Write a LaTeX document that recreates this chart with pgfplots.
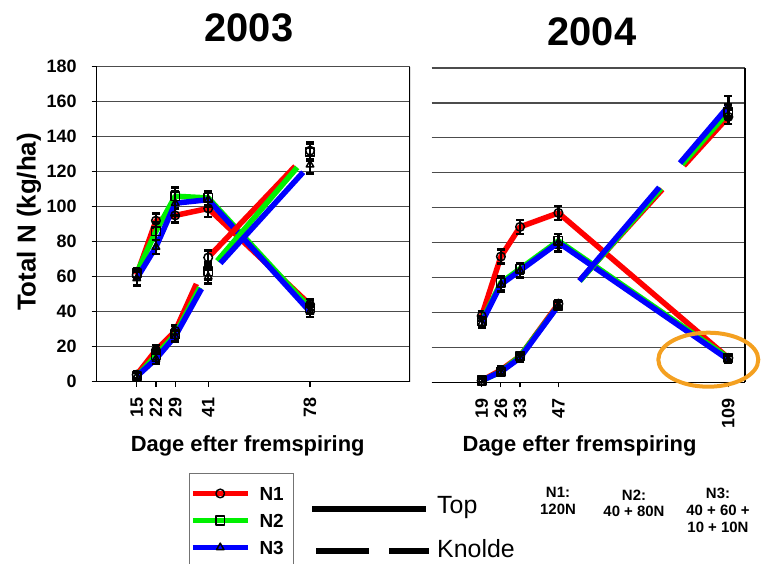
\documentclass[border=0pt]{standalone}
\usepackage{pgfplots}
\pgfplotsset{compat=1.18}
\usepackage{fontspec}
\setmainfont{Liberation Sans}
\definecolor{cNa}{RGB}{255,0,0}
\definecolor{cNb}{RGB}{0,240,0}
\definecolor{cNc}{RGB}{0,0,255}
\definecolor{ringc}{RGB}{244,160,32}
\newcommand{\fs}[1]{\fontsize{#1}{#1}\selectfont}
\pgfplotsset{
  panel/.style={scale only axis, width=313.3bp, height=315bp,
    ymin=0, ymax=180, ytick={0,20,...,180}, ymajorgrids,
    grid style={black!70, line width=1.2bp},
    axis line style={black, line width=1.2bp},
    tick style={black, line width=1.2bp},
    tick align=outside, major tick length=5bp,
    axis x line*=bottom,
    /pgf/number format/assume math mode=true,
    ticklabel style={font=\bfseries\fs{18}},
    xticklabel style={rotate=90, anchor=east, inner sep=0pt},
    xticklabel shift=11bp,
    yticklabel style={anchor=east, inner sep=0pt},
    yticklabel shift=15bp,
  },
  ser/.style={color=#1, line width=5.5bp, line join=round,
    mark options={solid, draw=black, fill=white, line width=1.5bp, mark size=4.3bp},
    error bars/y dir=both, error bars/y explicit,
    error bars/error bar style={black, solid, line width=2.4bp},
    error bars/error mark options={black, solid, rotate=90, line width=2.4bp, mark size=4bp}},
  kn/.style={dash pattern=on 123bp off 32bp, dash phase=13bp},
}
\begin{document}
\begin{tikzpicture}[x=1bp, y=1bp]
\useasboundingbox (0,0) rectangle (765,564);
% ---------- 2003 ----------
\begin{axis}[panel, at={(96.7bp,182.3bp)}, anchor=south west,
  axis y line*=left, xmin=0.46, xmax=114.35, xtick={15,22,29,41,78},
  legend image code/.code={
    \draw[mark repeat=2, mark phase=2, #1] plot coordinates {(0bp,0bp) (27.5bp,0bp) (55bp,0bp)};},
  legend style={at={(0.293,-0.2914)}, anchor=north west, draw=black!55, line width=1bp,
    inner xsep=1bp, inner ysep=12.75bp, row sep=13.5bp,
    /tikz/every odd column/.append style={column sep=9bp},
    font=\bfseries\fs{19}, nodes={inner sep=0pt, text height=13.5bp, text depth=0bp}},
  legend cell align=left]
\addplot[ser=cNa, mark=o] coordinates {(15,61)+-(0,3) (22,92)+-(0,4) (29,95)+-(0,4) (41,99)+-(0,5) (78,44)+-(0,3)};
\addlegendentry{N1\hspace*{9bp}}
\addplot[ser=cNb, mark=square] coordinates {(15,62)+-(0,3) (22,86)+-(0,5) (29,106)+-(0,5) (41,105)+-(0,4) (78,42)+-(0,3)};
\addlegendentry{N2\hspace*{9bp}}
\addplot[ser=cNc, mark=triangle] coordinates {(15,59)+-(0,4) (22,77)+-(0,4) (29,102)+-(0,7) (41,104)+-(0,4) (78,40)+-(0,3)};
\addlegendentry{N3\hspace*{9bp}}
\addplot[ser=cNa, kn, mark=o, forget plot] coordinates {(15,4)+-(0,2) (22,18)+-(0,3) (29,29)+-(0,3) (41,71)+-(0,4) (78,132)+-(0,5)};
\addplot[ser=cNb, kn, mark=square, forget plot] coordinates {(15,3)+-(0,2) (22,15)+-(0,4) (29,27)+-(0,3) (41,63)+-(0,5) (78,131)+-(0,5)};
\addplot[ser=cNc, kn, mark=triangle, forget plot] coordinates {(15,3)+-(0,2) (22,13)+-(0,3) (29,26)+-(0,3) (41,60)+-(0,4) (78,124)+-(0,5)};
\draw[black, line width=1.2bp] (rel axis cs:1,0) -- (rel axis cs:1,1);
\end{axis}
% ---------- 2004 ----------
\begin{axis}[panel, at={(431.7bp,181.7bp)}, anchor=south west, height=314.3bp,
  axis y line*=right, yticklabel=\empty, ytick style={draw=none},
  xmin=0.75, xmax=115.1, xtick={19,26,33,47,109}]
\addplot[ser=cNa, mark=o] coordinates {(19,38)+-(0,3) (26,72)+-(0,4) (33,89)+-(0,4) (47,97)+-(0,4) (109,14)+-(0,2)};
\addplot[ser=cNb, mark=square] coordinates {(19,35)+-(0,3) (26,57)+-(0,4) (33,65)+-(0,3) (47,81)+-(0,4) (109,14)+-(0,2)};
\addplot[ser=cNc, mark=triangle] coordinates {(19,34)+-(0,3) (26,56)+-(0,4) (33,64)+-(0,4) (47,80)+-(0,5) (109,13)+-(0,2)};
\addplot[ser=cNa, kn, mark=o] coordinates {(19,1)+-(0,1) (26,7)+-(0,2) (33,15)+-(0,2) (47,45)+-(0,2) (109,152)+-(0,4)};
\addplot[ser=cNb, kn, mark=square] coordinates {(19,1)+-(0,1) (26,6)+-(0,2) (33,15)+-(0,2) (47,44)+-(0,2) (109,155)+-(0,4)};
\addplot[ser=cNc, kn, mark=triangle] coordinates {(19,1)+-(0,1) (26,6)+-(0,2) (33,14)+-(0,2) (47,44)+-(0,2) (109,158)+-(0,6)};
\end{axis}
% ---------- texts ----------
\node[anchor=base, font=\bfseries\fs{40}] at (249,522.3) {2003};
\node[anchor=base, font=\bfseries\fs{40}] at (592,518) {2004};
\node[rotate=90, font=\bfseries\fs{26}] at (29,342) {Total N (kg/ha)};
\node[anchor=base, font=\bfseries\fs{22}] at (247.7,112) {Dage efter fremspiring};
\node[anchor=base, font=\bfseries\fs{22}] at (579.6,112) {Dage efter fremspiring};
\draw[ringc, line width=4bp] (708.3,204.3) ellipse [x radius=50bp, y radius=27bp];
% key for line styles
\draw[black, line width=6bp] (312,55) -- (426,55);
\node[anchor=west, font=\fs{25}, inner sep=0pt] at (437,56) {Top};
\draw[black, line width=6bp] (316,13) -- (369,13);
\draw[black, line width=6bp] (389,13) -- (429,13);
\node[anchor=west, font=\fs{25}, inner sep=0pt] at (437,15) {Knolde};
\node[anchor=north, align=center, font=\bfseries\fontsize{15}{16.5}\selectfont, inner sep=0pt] at (558,76.5) {N1:\\120N};
\node[anchor=north, align=center, font=\bfseries\fontsize{15}{16.5}\selectfont, inner sep=0pt] at (634,74.5) {N2:\\40 + 80N};
\node[anchor=north, align=center, font=\bfseries\fontsize{15}{17}\selectfont, inner sep=0pt] at (718,76.5) {N3:\\40 + 60 +\\10 + 10N};
\end{tikzpicture}
\end{document}
